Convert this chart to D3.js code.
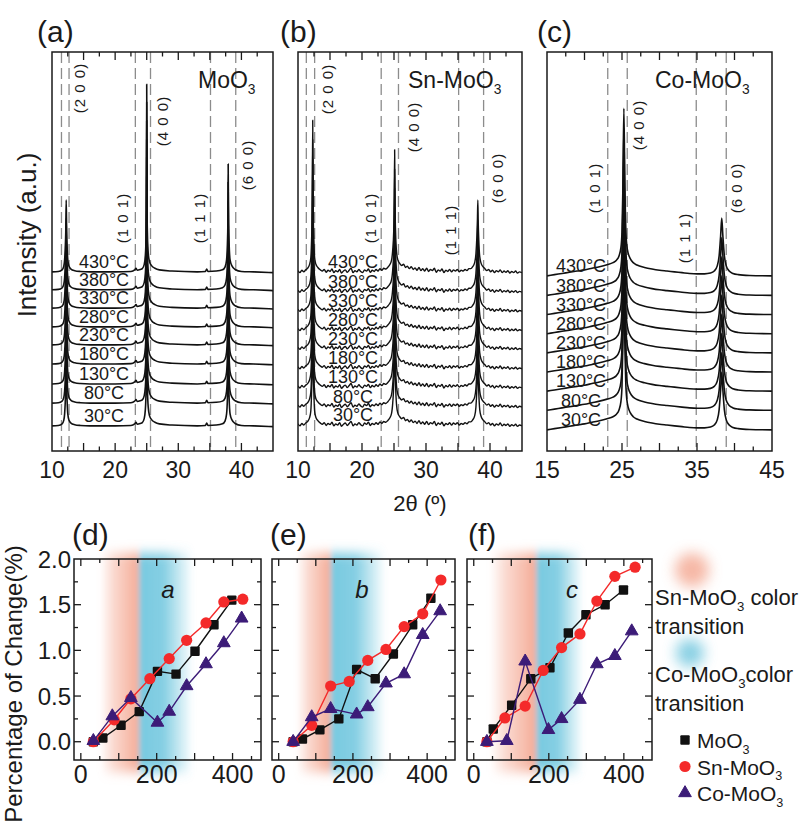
<!DOCTYPE html>
<html lang="en">
<head>
<meta charset="utf-8">
<title>XRD patterns and colour change</title>
<script src="https://cdn.jsdelivr.net/npm/d3@7/dist/d3.min.js"></script>
<style>
  body { margin: 0; background: #fff; }
  text { font-family: "Liberation Sans", Arial, sans-serif; fill: #1a1a1a; }
</style>
</head>
<body>
<script>
// ---------- data ----------
var temps = ["30°C", "80°C", "130°C", "180°C", "230°C", "280°C", "330°C", "380°C", "430°C"];

// XRD profiles: [2θ, intensity above the trace baseline] (a.u.)
var profileMoO3 = [[10,0],[11,0.1],[11.6,0.5],[11.85,1.3],[12.0,3],[12.1,6],[12.18,10],[12.25,18],[12.32,10],[12.4,6],
  [12.5,3],[12.7,1.4],[13.0,0.7],[13.6,0.3],[14.5,0.1],[16,0],[20,0],[22.5,0.1],[23.1,0.5],[23.3,0.9],[23.5,0.4],
  [24.0,0.6],[24.3,0.8],[24.6,1.8],[24.78,4],[24.9,9],[24.96,16],[25.0,47],[25.05,16],[25.12,9],[25.25,4.5],
  [25.45,2.5],[25.8,1.5],[26.3,0.9],[27,0.5],[29,0.2],[33,0],[34.3,0.1],[34.5,0.7],[34.7,0.1],[36,0.2],[37,0.5],
  [37.4,1.2],[37.65,3],[37.78,7],[37.85,12],[37.9,27],[37.96,12],[38.05,7],[38.2,3],[38.5,1.5],[39.0,0.6],
  [40,0.1],[42,0],[45,-0.2]];
var profileSn = [[10,0.3],[10.3,-0.2],[10.6,0.4],[10.9,0.0],[11.2,0.5],[11.5,0.9],[11.8,1.8],[12.0,3.5],[12.12,8],
  [12.22,15],[12.3,38],[12.38,15],[12.48,8],[12.6,3.5],[12.8,1.9],[13.1,1.1],[13.5,0.5],[13.8,0.2],[14.1,0.6],[14.4,-0.1],[14.7,0.4],[15.0,0.1],
  [15.3,0.7],[15.6,-0.2],[15.9,0.3],[16.2,0.0],[16.5,0.6],[16.8,-0.3],[17.1,0.2],[17.4,0.5],[17.7,-0.1],[18.0,0.4],
  [18.3,0.9],[18.6,-0.2],[18.9,0.3],[19.2,0.0],[19.5,0.6],[19.8,0.1],[20.1,-0.2],[20.4,0.5],[20.7,0.2],[21.0,0.7],
  [21.3,-0.1],[21.6,0.4],[21.9,0.1],[22.2,0.6],[22.5,0.2],[22.8,0.8],[23.1,0.4],[23.4,0.9],[23.7,0.7],[24.0,1.1],
  [24.3,1.7],[24.6,2.8],[24.8,5.5],[24.95,10],[25.03,16],[25.1,30.6],[25.17,16],[25.25,10],[25.4,5],[25.6,3],[25.9,2.1],[26.2,1.6],
  [26.5,1.9],[26.8,1.1],[27.1,1.4],[27.4,0.8],[27.7,1.3],[28.0,0.6],[28.3,1.0],[28.6,0.4],[28.9,1.1],[29.2,0.3],
  [29.5,0.8],[29.8,0.2],[30.1,0.9],[30.4,0.1],[30.7,0.6],[31.0,0.3],[31.3,0.9],[31.6,-0.1],[31.9,0.5],[32.2,0.2],
  [32.5,0.7],[32.8,-0.2],[33.1,0.4],[33.4,0.1],[33.7,0.6],[34.0,0.0],[34.3,0.5],[34.6,0.2],[34.9,0.6],[35.2,0.0],
  [35.5,0.4],[35.8,0.2],[36.1,0.6],[36.4,0.3],[36.7,0.8],[37.0,0.8],[37.3,1.3],[37.6,2.3],[37.8,4.5],[37.95,9],
  [38.03,13],[38.1,18],[38.17,12],[38.25,8],[38.4,3.8],[38.6,2.2],[38.9,1.3],[39.2,0.8],[39.5,0.3],[39.8,0.6],[40.1,0.0],[40.4,0.4],
  [40.7,-0.2],[41.0,0.3],[41.3,0.0],[41.6,0.5],[41.9,-0.2],[42.2,0.2],[42.5,-0.1],[42.8,0.3],[43.1,-0.3],[43.4,0.1],
  [43.7,-0.2],[44.0,0.2],[44.3,-0.3],[44.6,0.0],[45,-0.2]];
var profileCo = [[15,0],[16,0.3],[17,0.6],[18,0.9],[19,1.2],[20,1.5],[21,1.9],[22,2.3],[23,2.8],[23.8,3.3],[24.3,4],
  [24.6,5],[24.85,7],[25.0,11],[25.12,22],[25.25,42],[25.38,22],[25.5,12],[25.65,7.5],[25.85,5.5],[26.1,4.3],
  [26.5,3.3],[27,2.7],[28,2.1],[29,1.7],[30,1.4],[31,1.2],[32,1.0],[33,0.8],[34,0.6],[35,0.5],[36,0.5],[36.8,0.7],
  [37.3,1.2],[37.7,2.5],[37.95,5],[38.15,10],[38.3,14.5],[38.45,10],[38.65,5],[38.9,2.5],[39.3,1.2],[39.8,0.6],
  [40.5,0.3],[42,0.1],[45,0]];

// stacking offsets, 30°C .. 430°C
var offsetsMoO3 = [6.3, 12.0, 16.8, 21.8, 26.6, 31.1, 35.8, 40.4, 44.9];
var offsetsSn   = [6.5, 11.2, 16.0, 20.8, 25.7, 30.4, 35.2, 40.0, 44.9];
var offsetsCo   = [5.3, 10.2, 15.0, 19.8, 24.6, 29.4, 34.2, 39.0, 43.9];

// reference lines (2θ) and reflections
var dashesMoO3 = [11.5, 12.7, 23.2, 25.6, 35.1, 39.1];
var dashesSn   = [11.3, 12.6, 23.0, 25.7, 35.1, 39.0];
var dashesCo   = [23.1, 25.7, 34.9, 38.9];
var hklMoO3 = [["(2 0 0)", 12.7], ["(1 0 1)", 23.2], ["(4 0 0)", 25.6], ["(1 1 1)", 35.1], ["(6 0 0)", 39.1]];
var hklSn   = [["(2 0 0)", 12.6], ["(1 0 1)", 23.0], ["(4 0 0)", 25.7], ["(1 1 1)", 35.1], ["(6 0 0)", 39.0]];
var hklCo   = [["(1 0 1)", 23.1], ["(4 0 0)", 25.7], ["(1 1 1)", 34.9], ["(6 0 0)", 38.9]];
var ticksAB = [10, 20, 30, 40];
var ticksC  = [15, 25, 35, 45];

// percentage of change vs temperature (°C), [x, %]
var dMoO3 = [[33,0.0],[58,0.04],[106,0.18],[154,0.33],[202,0.77],[251,0.74],[301,0.99],[351,1.28],[398,1.55]];
var dSn   = [[33,0.0],[88,0.24],[132,0.47],[182,0.69],[233,0.91],[279,1.11],[330,1.30],[377,1.53],[427,1.56]];
var dCo   = [[33,0.01],[83,0.28],[132,0.48],[202,0.21],[233,0.33],[279,0.61],[330,0.85],[377,1.08],[424,1.35]];
var eMoO3 = [[39,0.0],[64,0.03],[111,0.13],[162,0.25],[210,0.79],[260,0.69],[309,0.96],[361,1.28],[410,1.57]];
var eSn   = [[39,0.0],[89,0.18],[140,0.61],[190,0.66],[240,0.89],[289,1.01],[338,1.26],[388,1.40],[437,1.77]];
var eCo   = [[39,0.0],[89,0.27],[140,0.36],[210,0.30],[240,0.38],[289,0.64],[338,0.74],[388,1.17],[435,1.43]];
var fMoO3 = [[35,0.0],[52,0.14],[101,0.40],[152,0.69],[203,0.81],[252,1.19],[299,1.39],[350,1.50],[399,1.66]];
var fSn   = [[35,0.0],[83,0.26],[137,0.39],[185,0.78],[234,1.03],[283,1.18],[328,1.54],[376,1.81],[430,1.91]];
var fCo   = [[35,0.0],[88,0.01],[137,0.88],[199,0.13],[234,0.25],[283,0.46],[328,0.85],[376,0.94],[421,1.21]];
// colour transition bands: [Sn start, Sn end / Co start, Co end] (°C)
var bandD = [50, 153, 296];
var bandE = [48, 140, 288];
var bandF = [43, 166, 292];
var pctTicks = [0.0, 0.5, 1.0, 1.5, 2.0];
var tempTicks = [0, 200, 400];

// ---------- drawing ----------
var svg = d3.select("body").append("svg").attr("width", 809).attr("height", 824);
var defs = svg.append("defs");
var ink = "#1a1a1a";

function chem(g, x, y, parts, size, anchor) {
  var t = g.append("text").attr("x", x).attr("y", y).attr("font-size", size)
    .attr("text-anchor", anchor || "start");
  var down = false;
  parts.forEach(function (p) {
    var s = t.append("tspan").text(p[0]);
    if (p[1]) { s.attr("font-size", size * 0.6).attr("dy", size * 0.28); down = true; }
    else if (down) { s.attr("dy", -size * 0.28); down = false; }
  });
  return t;
}

// ----- top XRD panels -----
var yTop = d3.scaleLinear().domain([0, 100]).range([451, 52]);
var topPanels = [
  { tag: "(a)", tagX: 37, x0: 52, x1: 273, domain: [10, 45], ticks: ticksAB, profile: profileMoO3,
    offsets: offsetsMoO3, dashes: dashesMoO3, hkl: hklMoO3, hklPos: [[11, 88], [-13, 218], [12, 121], [-11, 218], [12, 165]],
    name: [["MoO", 0], ["3", 1]], nameX: 198, tempX: 104, width: 1.6 },
  { tag: "(b)", tagX: 280, x0: 298, x1: 522, domain: [10, 45], ticks: ticksAB, profile: profileSn,
    offsets: offsetsSn, dashes: dashesSn, hkl: hklSn, hklPos: [[13, 89], [-10, 218], [15, 127], [-8, 230], [14, 178]],
    name: [["Sn-MoO", 0], ["3", 1]], nameX: 408, tempX: 353, width: 1.4 },
  { tag: "(c)", tagX: 537, x0: 547, x1: 772, domain: [15, 45], ticks: ticksC, profile: profileCo,
    offsets: offsetsCo, dashes: dashesCo, hkl: hklCo, hklPos: [[-13, 188], [11, 125], [-12, 238], [10, 188]],
    name: [["Co-MoO", 0], ["3", 1]], nameX: 655, tempX: 581, width: 1.6 }
];

topPanels.forEach(function (p, pi) {
  var x = d3.scaleLinear().domain(p.domain).range([p.x0, p.x1]);
  var g = svg.append("g");
  var y0 = yTop.range()[0], y1 = yTop.range()[1];

  defs.append("clipPath").attr("id", "clipTop" + pi).append("rect")
    .attr("x", p.x0).attr("y", y1).attr("width", p.x1 - p.x0).attr("height", y0 - y1);

  g.selectAll("line.dash").data(p.dashes).enter().append("line")
    .attr("x1", function (d) { return x(d); }).attr("x2", function (d) { return x(d); })
    .attr("y1", y1).attr("y2", y0)
    .attr("stroke", "#8c8c8c").attr("stroke-width", 1.3).attr("stroke-dasharray", "11,5");

  var line = d3.line()
    .x(function (d) { return x(d[0]); })
    .curve(d3.curveMonotoneX);
  var traces = g.append("g").attr("clip-path", "url(#clipTop" + pi + ")");
  p.offsets.forEach(function (off) {
    traces.append("path")
      .attr("d", line.y(function (d) { return yTop(off + d[1]); })(p.profile))
      .attr("fill", "none").attr("stroke", "#111").attr("stroke-width", p.width)
      .attr("stroke-linejoin", "round");
  });

  // frame and ticks
  g.append("rect").attr("x", p.x0).attr("y", y1).attr("width", p.x1 - p.x0).attr("height", y0 - y1)
    .attr("fill", "none").attr("stroke", ink).attr("stroke-width", 1.5);
  var tk = d3.range(p.domain[0] + 2.5, p.domain[1], 2.5);
  tk.forEach(function (v) {
    var len = (v % 5 === 0) ? 8 : 4.5;
    g.append("line").attr("x1", x(v)).attr("x2", x(v)).attr("y1", y0).attr("y2", y0 - len)
      .attr("stroke", ink).attr("stroke-width", 1.3);
    g.append("line").attr("x1", x(v)).attr("x2", x(v)).attr("y1", y1).attr("y2", y1 + len)
      .attr("stroke", ink).attr("stroke-width", 1.3);
  });
  g.selectAll("text.tick").data(p.ticks).enter().append("text")
    .attr("x", function (d) { return x(d); }).attr("y", 478)
    .attr("text-anchor", "middle").attr("font-size", 23).text(function (d) { return d; });

  // reflections
  p.hkl.forEach(function (h, i) {
    var cx = x(h[1]) + p.hklPos[i][0], cy = p.hklPos[i][1];
    g.append("text").attr("transform", "translate(" + cx + "," + cy + ") rotate(-90)")
      .attr("text-anchor", "middle").attr("dy", "0.35em").attr("font-size", 15)
      .attr("letter-spacing", 1).text(h[0]);
  });

  // temperature labels
  p.offsets.forEach(function (off, i) {
    g.append("text").attr("x", p.tempX).attr("y", yTop(off) - 10).attr("dy", "0.35em")
      .attr("text-anchor", "middle").attr("font-size", 18).text(temps[i]);
  });

  chem(g, p.nameX, 88, p.name, 23);
  g.append("text").attr("x", p.tagX).attr("y", 42).attr("font-size", 30).text(p.tag);
});

svg.append("text").attr("transform", "translate(36,235) rotate(-90)")
  .attr("text-anchor", "middle").attr("font-size", 26).text("Intensity (a.u.)");
svg.append("text").attr("x", 420).attr("y", 511).attr("text-anchor", "middle")
  .attr("font-size", 22).text("2θ (º)");

// ----- bottom panels -----
var yBot = d3.scaleLinear().domain([-0.2, 2.0]).range([760, 559]);
var colors = { mo: "#111111", sn: "#f42a2a", co: "#3c1c78" };
var orange = "#f3a088", blue = "#56bcd8";

var blur = defs.append("filter").attr("id", "bandBlur")
  .attr("x", "-30%").attr("y", "-30%").attr("width", "160%").attr("height", "160%");
blur.append("feGaussianBlur").attr("stdDeviation", "2.5 6");
var blobBlur = defs.append("filter").attr("id", "blobBlur")
  .attr("x", "-100%").attr("y", "-100%").attr("width", "300%").attr("height", "300%");
blobBlur.append("feGaussianBlur").attr("stdDeviation", 7);

var botPanels = [
  { tag: "(d)", tagX: 72, x0: 74, x1: 261, series: [dMoO3, dSn, dCo], band: bandD, italic: "a", ix: 168, yLabels: true },
  { tag: "(e)", tagX: 270, x0: 272, x1: 455, series: [eMoO3, eSn, eCo], band: bandE, italic: "b", ix: 362, yLabels: false },
  { tag: "(f)", tagX: 468, x0: 467, x1: 652, series: [fMoO3, fSn, fCo], band: bandF, italic: "c", ix: 572, yLabels: false }
];

function marker(g, kind, cx, cy) {
  if (kind === 0) {
    g.append("rect").attr("x", cx - 4.7).attr("y", cy - 4.7).attr("width", 9.4).attr("height", 9.4)
      .attr("rx", 1).attr("fill", colors.mo);
  } else if (kind === 1) {
    g.append("circle").attr("cx", cx).attr("cy", cy).attr("r", 5.6).attr("fill", colors.sn);
  } else {
    g.append("path").attr("transform", "translate(" + cx + "," + cy + ")")
      .attr("d", d3.symbol().type(d3.symbolTriangle).size(70)()).attr("fill", colors.co)
      .attr("stroke", colors.co).attr("stroke-width", 1).attr("stroke-linejoin", "round");
  }
}

botPanels.forEach(function (p, pi) {
  var x = d3.scaleLinear().domain([-18, 475]).range([p.x0, p.x1]);
  var g = svg.append("g");
  var y0 = yBot.range()[0], y1 = yBot.range()[1];

  // colour transition bands
  var go = defs.append("linearGradient").attr("id", "gOr" + pi).attr("gradientUnits", "userSpaceOnUse")
    .attr("x1", x(p.band[0])).attr("x2", x(p.band[1])).attr("y1", 0).attr("y2", 0);
  [[0, 0], [0.35, 0.4], [1, 0.88]].forEach(function (s) {
    go.append("stop").attr("offset", s[0]).attr("stop-color", orange).attr("stop-opacity", s[1]);
  });
  var gb = defs.append("linearGradient").attr("id", "gBl" + pi).attr("gradientUnits", "userSpaceOnUse")
    .attr("x1", x(p.band[1])).attr("x2", x(p.band[2])).attr("y1", 0).attr("y2", 0);
  [[0, 0.8], [0.45, 0.72], [1, 0]].forEach(function (s) {
    gb.append("stop").attr("offset", s[0]).attr("stop-color", blue).attr("stop-opacity", s[1]);
  });
  var bands = g.append("g").attr("filter", "url(#bandBlur)");
  bands.append("rect").attr("x", x(p.band[0])).attr("y", y1 - 6)
    .attr("width", x(p.band[1]) - x(p.band[0])).attr("height", y0 - y1 + 18).attr("fill", "url(#gOr" + pi + ")");
  bands.append("rect").attr("x", x(p.band[1])).attr("y", y1 - 6)
    .attr("width", x(p.band[2]) - x(p.band[1])).attr("height", y0 - y1 + 18).attr("fill", "url(#gBl" + pi + ")");

  // frame and ticks
  g.append("rect").attr("x", p.x0).attr("y", y1).attr("width", p.x1 - p.x0).attr("height", y0 - y1)
    .attr("fill", "none").attr("stroke", ink).attr("stroke-width", 1.5);
  d3.range(0, 451, 50).forEach(function (v) {
    var len = (v % 100 === 0) ? 7 : 4;
    g.append("line").attr("x1", x(v)).attr("x2", x(v)).attr("y1", y0).attr("y2", y0 - len).attr("stroke", ink).attr("stroke-width", 1.3);
    g.append("line").attr("x1", x(v)).attr("x2", x(v)).attr("y1", y1).attr("y2", y1 + len).attr("stroke", ink).attr("stroke-width", 1.3);
  });
  d3.range(0, 1.8, 0.25).forEach(function (v) {
    var len = (Math.abs(v * 2 - Math.round(v * 2)) < 1e-6) ? 7 : 4;
    g.append("line").attr("x1", p.x0).attr("x2", p.x0 + len).attr("y1", yBot(v)).attr("y2", yBot(v)).attr("stroke", ink).attr("stroke-width", 1.3);
    g.append("line").attr("x1", p.x1).attr("x2", p.x1 - len).attr("y1", yBot(v)).attr("y2", yBot(v)).attr("stroke", ink).attr("stroke-width", 1.3);
  });
  g.selectAll("text.xt").data(tempTicks).enter().append("text")
    .attr("x", function (d) { return x(d); }).attr("y", 783)
    .attr("text-anchor", "middle").attr("font-size", 25).text(function (d) { return d; });
  if (p.yLabels) {
    g.selectAll("text.yt").data(pctTicks).enter().append("text")
      .attr("x", p.x0 - 3).attr("y", function (d) { return yBot(d); }).attr("dy", "0.36em")
      .attr("text-anchor", "end").attr("font-size", 24).text(function (d) { return d.toFixed(1); });
  }

  // series
  var line = d3.line().x(function (d) { return x(d[0]); }).y(function (d) { return yBot(d[1]); });
  var cols = [colors.mo, colors.sn, colors.co];
  p.series.forEach(function (s, si) {
    g.append("path").attr("d", line(s)).attr("fill", "none").attr("stroke", cols[si]).attr("stroke-width", 1.4);
    s.forEach(function (d) { marker(g, si, x(d[0]), yBot(d[1])); });
  });

  g.append("text").attr("x", p.ix).attr("y", 598).attr("text-anchor", "middle")
    .attr("font-size", 24).attr("font-style", "italic").text(p.italic);
  g.append("text").attr("x", p.tagX).attr("y", 545).attr("font-size", 30).text(p.tag);
});

svg.append("text").attr("transform", "translate(22,684) rotate(-90)")
  .attr("text-anchor", "middle").attr("font-size", 24).text("Percentage of Change(%)");

// ----- legend -----
var lg = svg.append("g");
lg.append("circle").attr("cx", 692).attr("cy", 570).attr("r", 17).attr("fill", orange)
  .attr("opacity", 0.75).attr("filter", "url(#blobBlur)");
lg.append("circle").attr("cx", 690).attr("cy", 653).attr("r", 14).attr("fill", blue)
  .attr("opacity", 0.7).attr("filter", "url(#blobBlur)");
chem(lg, 655, 605, [["Sn-MoO", 0], ["3", 1], [" color", 0]], 22);
lg.append("text").attr("x", 655).attr("y", 634).attr("font-size", 22).text("transition");
chem(lg, 655, 682, [["Co-MoO", 0], ["3", 1], ["color", 0]], 22);
lg.append("text").attr("x", 655).attr("y", 711).attr("font-size", 22).text("transition");
var legNames = [[["MoO", 0], ["3", 1]], [["Sn-MoO", 0], ["3", 1]], [["Co-MoO", 0], ["3", 1]]];
legNames.forEach(function (n, i) {
  var cy = 740 + i * 26.5;
  marker(lg, i, 685, cy);
  chem(lg, 697, cy + 8, n, 21);
});
</script>
</body>
</html>
